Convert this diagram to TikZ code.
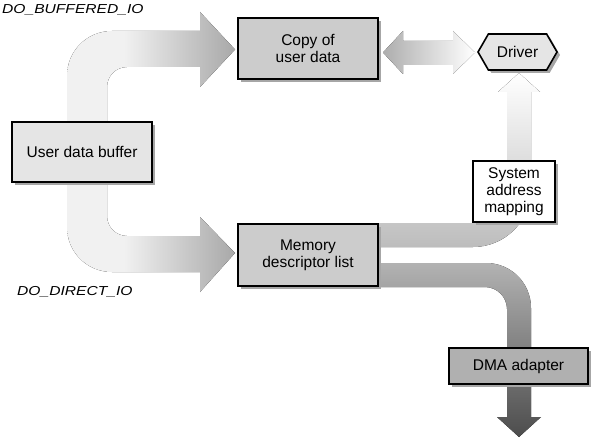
\documentclass[tikz,border=0pt]{standalone}
\usepackage{fontspec}
\setmainfont{Liberation Sans}
\usepackage{graphicx}
\usetikzlibrary{shapes.symbols,shadows,backgrounds}

\definecolor{boxlite}{gray}{0.9}
\definecolor{boxmid}{gray}{0.8}
\definecolor{boxdark}{gray}{0.69}
\definecolor{bandlite}{gray}{0.945}
\definecolor{banddark}{gray}{0.66}

\pgfdeclarehorizontalshading{cband}{100bp}{color(0bp)=(bandlite); color(42bp)=(bandlite); color(75bp)=(banddark); color(100bp)=(banddark)}

\tikzset{
  box/.style={draw, line width=1.6pt, align=center, inner sep=0pt,
    font=\fontsize{15.5}{17}\selectfont,
    drop shadow={shadow xshift=3pt, shadow yshift=-3pt, fill=black!35, opacity=1}},
  iolabel/.style={font=\fontsize{13}{15}\selectfont\itshape, inner sep=0pt, anchor=base west},
}

\begin{document}
\begin{tikzpicture}[x=1pt, y=-1pt]
  \useasboundingbox (0,0) rectangle (593,438);
  \node[box, fill=boxlite, minimum width=140, minimum height=60] (ubuf) at (82,152) {User data buffer};
  \node[box, fill=boxmid, minimum width=140, minimum height=61] (copy) at (308,48.5) {Copy of\\user data};
  \node[box, fill=boxmid, minimum width=140, minimum height=62] (mdl) at (308,255) {Memory\\descriptor list};
  \node[box, fill=boxlite, shape=signal, signal to=west and east, signal pointer angle=120,
        minimum width=79, minimum height=36] (drv) at (517.5,52) {Driver};
  \node[box, fill=white, minimum width=82, minimum height=61] (sam) at (514,191.5) {System\\address\\mapping};
  \node[box, fill=boxdark, minimum width=139, minimum height=36] (dma) at (518.5,366) {DMA adapter};
  \node[iolabel] (lbuf) at (2,14) {\scalebox{1.2}[1]{DO\_BUFFERED\_IO}};
  \node[iolabel] (ldir) at (17,295) {\scalebox{1.2}[1]{DO\_DIRECT\_IO}};
  \begin{scope}[on background layer]
    % buffer -> copy / descriptor list
    \fill[shading=cband] (235,49.5) -- (200,87) -- (200,67) -- (127,67)
      .. controls (116,67) and (107,76) .. (107,87) -- (107,216)
      .. controls (107,227) and (116,236) .. (127,236) -- (200,236) -- (200,217)
      -- (235,253) -- (200,292) -- (200,272) -- (112,272)
      .. controls (87,272) and (67,252) .. (67,227) -- (67,76)
      .. controls (67,51) and (87,31) .. (112,31) -- (200,31) -- (200,12) -- cycle;
    % copy <-> driver
    \fill[left color=black!32, right color=white] (383,52.5) -- (403,31) -- (403,41) -- (453,41)
      -- (453,31) -- (475,52.5) -- (453,74) -- (453,65) -- (403,65) -- (403,74) -- cycle;
    % descriptor list -> mapping -> driver
    \fill[top color=white, bottom color=black!26] (379,223) -- (507,223) -- (507,92) -- (498,92)
      -- (519,73) -- (540,92) -- (531,92) -- (531,189)
      .. controls (531,221) and (505,247) .. (473,247) -- (379,247) -- cycle;
    % descriptor list -> dma adapter
    \fill[top color=black!30, bottom color=black!70] (379,263) -- (486,263)
      .. controls (511,263) and (531,283) .. (531,308) -- (531,417) -- (541,417) -- (519,437)
      -- (497,417) -- (507,417) -- (507,309)
      .. controls (507,297) and (497,287) .. (485,287) -- (379,287) -- cycle;
  \end{scope}
\end{tikzpicture}
\end{document}
